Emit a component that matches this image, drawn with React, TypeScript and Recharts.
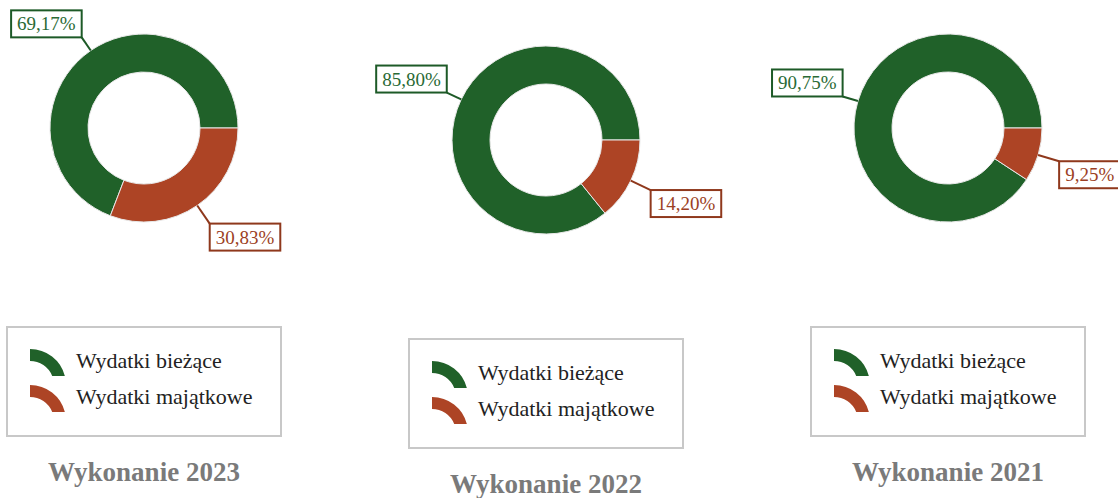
import React from 'react';
import { PieChart, Pie, Cell, Legend } from 'recharts';

const categories = ['Wydatki bieżące', 'Wydatki majątkowe'];
const colors = ['#206129', '#ad4425'];
const boxStroke = ['#1d5a27', '#8f381c'];
const textColor = ['#2a6a35', '#9c3f24'];

const years = ['Wykonanie 2023', 'Wykonanie 2022', 'Wykonanie 2021'];
const values2023 = [69.17, 30.83];
const values2022 = [85.8, 14.2];
const values2021 = [90.75, 9.25];

const seriesByYear = [values2023, values2022, values2021];

const W = 372;
const H = 498;
const RADIAN = Math.PI / 180;
const FONT = "'Liberation Serif', 'Times New Roman', serif";

const fmt = (v: number) => v.toFixed(2).replace('.', ',') + '%';

const textWidth = (s: string, size: number) => {
  let w = 0;
  for (const ch of s) {
    if (ch === ',') w += 0.25;
    else if (ch === '%') w += 0.833;
    else w += 0.5;
  }
  return w * size;
};

const renderLabel = (props: any) => {
  const { cx, cy, midAngle, outerRadius, index, value } = props;
  const cos = Math.cos(-midAngle * RADIAN);
  const sin = Math.sin(-midAngle * RADIAN);
  const sx = cx + outerRadius * cos;
  const sy = cy + outerRadius * sin;
  const ext = cos >= 0 ? 22 : 16;
  const ex = cx + (outerRadius + ext) * cos;
  const ey = cy + (outerRadius + ext) * sin;
  const label = fmt(value);
  const bw = textWidth(label, 19) + 12;
  const bh = 27;
  const bx = cos >= 0 ? ex : ex - bw;
  const by = sin >= 0 ? ey : ey - bh;
  return (
    <g>
      <line x1={sx} y1={sy} x2={ex} y2={ey} stroke={boxStroke[index]} strokeWidth={2} />
      <rect x={bx} y={by} width={bw} height={bh} fill="#fff" stroke={boxStroke[index]} strokeWidth={2} />
      <text
        x={bx + bw / 2}
        y={by + bh / 2}
        textAnchor="middle"
        dominantBaseline="central"
        fill={textColor[index]}
        fontSize={19}
        fontFamily={FONT}
      >
        {label}
      </text>
    </g>
  );
};

const LegendIcon = ({ color }: { color: string }) => (
  <svg width={38} height={29} style={{ position: 'absolute', left: 21, top: -14 }}>
    <path d="M1,1 A36,36 0 0 1 35.85,28 L23.2,28 A24,24 0 0 0 1,13 Z" fill={color} />
  </svg>
);

const makeLegend = (title: string) => (props: any) => {
  const { payload } = props;
  return (
    <div style={{ width: 276, fontFamily: FONT }}>
      <div
        style={{
          position: 'relative',
          boxSizing: 'border-box',
          width: 276,
          height: 111,
          border: '2px solid #c8c8c8',
          background: '#fff',
        }}
      >
        {(payload || []).map((p: any, i: number) => (
          <div key={i} style={{ position: 'absolute', left: 0, top: 34 + i * 36, width: 270 }}>
            <LegendIcon color={p.color} />
            <span
              style={{
                position: 'absolute',
                left: 68,
                top: -14,
                fontSize: 22,
                lineHeight: '26px',
                color: '#222',
                whiteSpace: 'nowrap',
              }}
            >
              {p.value}
            </span>
          </div>
        ))}
      </div>
      <div
        style={{
          marginTop: 21,
          textAlign: 'center',
          fontSize: 27,
          fontWeight: 'bold',
          color: '#7a7a7a',
          lineHeight: '28px',
        }}
      >
        {title}
      </div>
    </div>
  );
};

const Donut = ({ values, title }: { values: number[]; title: string }) => {
  const data = categories.map((name, i) => ({ name, value: values[i] }));
  return (
    <PieChart width={W} height={H} margin={{ top: 0, right: 0, bottom: 0, left: 0 }}>
      <Pie
        data={data}
        dataKey="value"
        nameKey="name"
        cx={186}
        cy={128}
        innerRadius={56}
        outerRadius={94}
        startAngle={0}
        endAngle={360}
        stroke="#e8e8e8"
        strokeWidth={1}
        label={renderLabel}
        labelLine={false}
        isAnimationActive={false}
      >
        {data.map((_, i) => (
          <Cell key={i} fill={colors[i]} />
        ))}
      </Pie>
      <Legend
        content={makeLegend(title)}
        wrapperStyle={{ position: 'absolute', left: 48, top: 326, width: 276, height: 170 }}
      />
    </PieChart>
  );
};

const centers = [144, 546, 948];
const offsets = [0, 12, 0];

export default function App() {
  return (
    <div style={{ position: 'absolute', left: 0, top: 0, width: 1118, height: 498, background: '#fff', overflow: 'hidden' }}>
      {years.map((title, i) => (
        <div key={title} style={{ position: 'absolute', left: centers[i] - W / 2, top: offsets[i], width: W, height: H }}>
          <Donut values={seriesByYear[i]} title={title} />
        </div>
      ))}
    </div>
  );
}
